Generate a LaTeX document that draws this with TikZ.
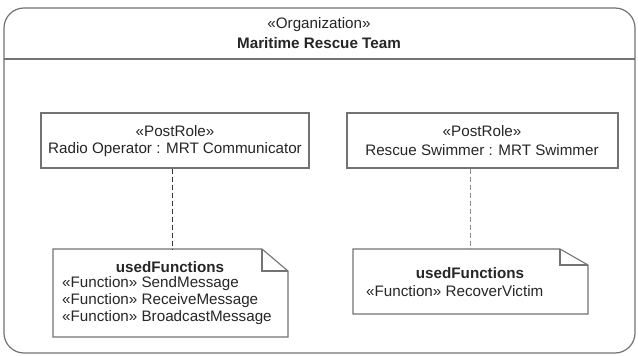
\documentclass[tikz,border=0pt]{standalone}
\usepackage{fontspec}
\setmainfont{Liberation Sans}
\begin{document}
\begin{tikzpicture}[x=1pt,y=-1pt,
  frame/.style={draw=black!55,line width=1.2pt},
  boxline/.style={draw=black!55,line width=1.1pt},
  lbl/.style={text=black!85,font=\fontsize{15.2}{18}\selectfont,inner sep=0pt},
  bold/.style={lbl,font=\fontsize{15.2}{18}\selectfont\bfseries},
  rolebox/.style={boxline,rectangle,inner sep=0pt,minimum height=55pt},
  conn/.style={draw=black!80,line width=1pt,dash pattern=on 5pt off 3pt},
  connlight/.style={draw=black!45,line width=1pt,dash pattern=on 5pt off 3pt}]
\useasboundingbox (0,0) rectangle (638,356);
\fill[white] (0,0) rectangle (638,356);
% outer organization frame
\draw[frame,rounded corners=20pt] (4,8) rectangle (635,353);
\draw[frame] (4,59) -- (635,59);
\node[lbl] (st) at (319,25) {«Organization»};
\node[bold] (tt) at (319,43) {Maritime Rescue Team};
% post roles
\node[rolebox,minimum width=268pt] (ro) at (175,140.5) {};
\node[lbl] (ro1) at (175,131) {«PostRole»};
\node[lbl] (ro2) at (175,150) {Radio Operator : MRT Communicator};
\node[rolebox,minimum width=271pt] (rs) at (482.5,140.5) {};
\node[lbl] (rs1) at (482,131) {«PostRole»};
\node[lbl] (rs2) at (482,150) {Rescue Swimmer : MRT Swimmer};
% notes
\draw[boxline] (53,249) -- (262,249) -- (288,271) -- (288,337) -- (53,337) -- cycle;
\draw[boxline] (262,249) -- (262,271) -- (288,271);
\coordinate (n1) at (172,249);
\node[bold] (n1t) at (170,267) {usedFunctions};
\node[lbl,anchor=west] (n1a) at (62,284) {«Function» SendMessage};
\node[lbl,anchor=west] (n1b) at (62,301) {«Function» ReceiveMessage};
\node[lbl,anchor=west] (n1c) at (62,318) {«Function» BroadcastMessage};
\draw[boxline] (353,249) -- (560,249) -- (588,265) -- (588,314) -- (353,314) -- cycle;
\draw[boxline] (560,249) -- (560,265) -- (588,265);
\coordinate (n2) at (470,249);
\node[bold] (n2t) at (470,273) {usedFunctions};
\node[lbl,anchor=west] (n2a) at (366,291) {«Function» RecoverVictim};
% connectors
\draw[conn] (ro.south -| n1) -- (n1);
\draw[connlight] (rs.south -| n2) -- (n2);
\end{tikzpicture}
\end{document}
